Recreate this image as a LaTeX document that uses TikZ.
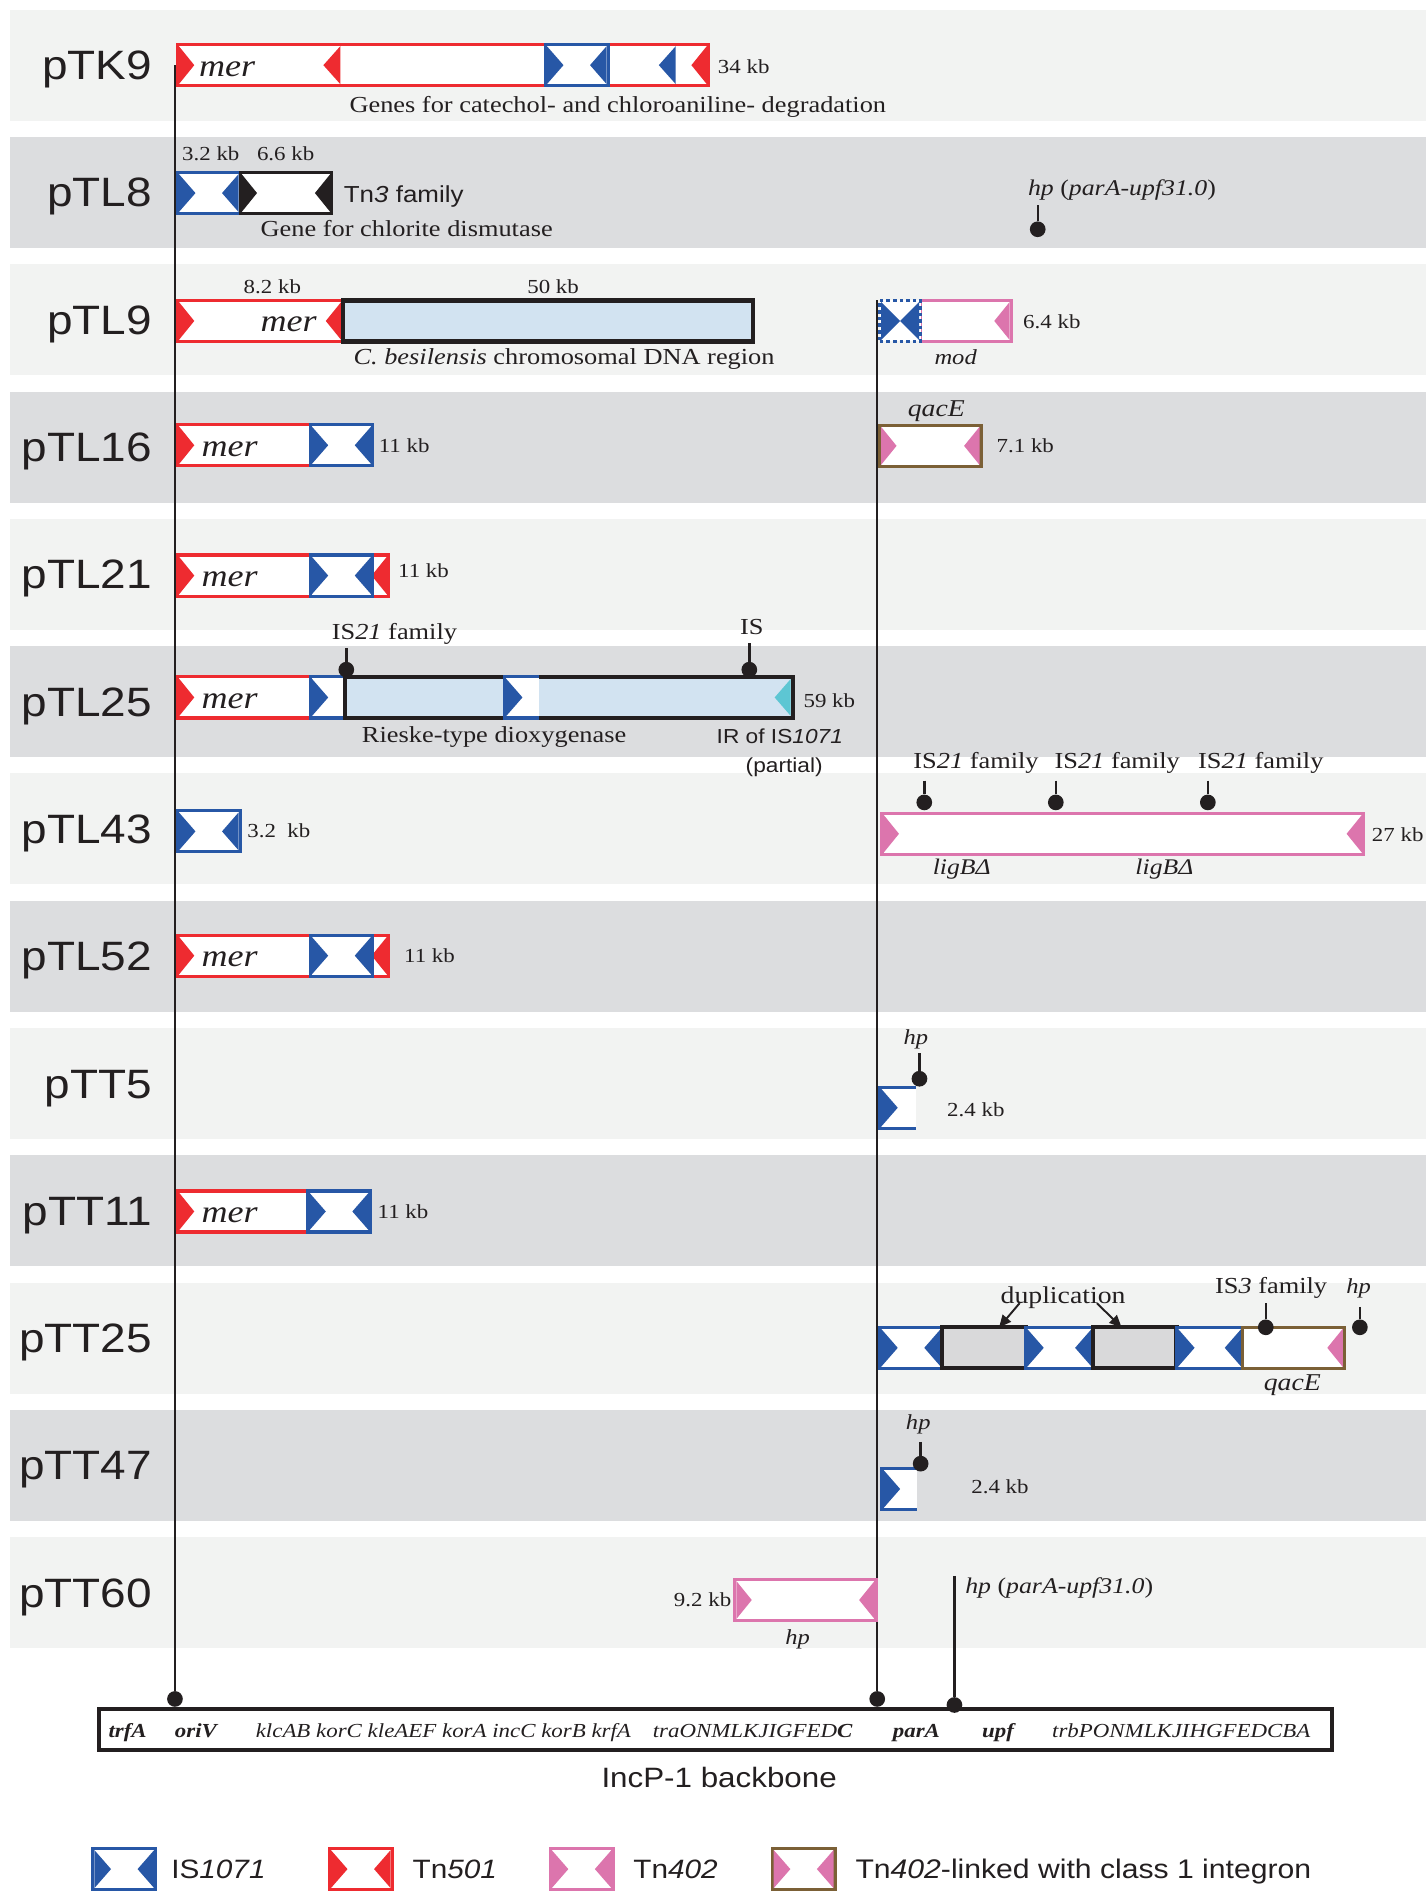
\documentclass[tikz,border=0pt]{standalone}
\usepackage{fontspec}
\setmainfont{Liberation Serif}[FakeStretch=1.15]
\setsansfont{Liberation Sans}[FakeStretch=1.12]
\usetikzlibrary{arrows.meta}

\definecolor{isblue}{HTML}{2757A6}
\definecolor{tnred}{HTML}{EE2B30}
\definecolor{tnpink}{HTML}{DC75AD}
\definecolor{intbrown}{HTML}{7B6036}
\definecolor{chrblue}{HTML}{D2E3F1}
\definecolor{ircyan}{HTML}{5DC6D3}
\definecolor{dupgrey}{HTML}{D9D9DA}
\definecolor{bandA}{HTML}{F2F3F2}
\definecolor{bandB}{HTML}{DCDDDF}
\definecolor{ink}{HTML}{231F20}

\newcommand\fs[1]{\fontsize{#1}{#1}\selectfont}
% inverted repeats: filled triangles on the left / right end of an element
\newcommand\irl[3][14]{\fill[#3] ([shift={(1.2,1.2)}]#2.north west) -- ([xshift=#1pt]#2.west) -- ([shift={(1.2,-1.2)}]#2.south west) -- cycle;}
\newcommand\irr[3][14]{\fill[#3] ([shift={(-1.2,1.2)}]#2.north east) -- ([xshift=-#1pt]#2.east) -- ([shift={(-1.2,-1.2)}]#2.south east) -- cycle;}
% truncated element: border on top, left and bottom only
\newcommand\openbox[2]{\draw[#2, line width=2.6pt] (#1.north east) -- (#1.north west) -- (#1.south west) -- (#1.south east);}
% IS1071 copy: blue box with both inverted repeats
\newcommand\isel[3]{\node[elem=isblue, minimum width=#3pt] (#1) at #2 {};\irl[15]{#1}{isblue}\irr[15]{#1}{isblue}}

\tikzset{
  txt/.style={inner sep=0pt, outer sep=0pt, text=ink},
  rowlab/.style={txt, anchor=base east, font=\sffamily\fs{34}},
  kb/.style={txt, anchor=base west, font=\fs{16.5}},
  desc/.style={txt, anchor=base west, font=\fs{19}},
  gene/.style={txt, anchor=base, font=\itshape\fs{17.7}},
  mer/.style={txt, anchor=base west, font=\itshape\fs{26}},
  sans/.style={txt, anchor=base west, font=\sffamily\fs{#1}},
  bbgene/.style={txt, anchor=base west, font=\itshape\fs{16.5}},
  bbkey/.style={txt, anchor=base west, font=\bfseries\itshape\fs{16.5}},
  elem/.style={draw=#1, line width=2.6pt, fill=white, inner sep=0pt, outer sep=0pt, minimum height=34pt, anchor=west},
  openel/.style={fill=white, inner sep=0pt, outer sep=0pt, minimum height=34pt, anchor=west},
  chrom/.style={draw=ink, line width=3.4pt, fill=chrblue, inner sep=0pt, outer sep=0pt, minimum height=34pt, anchor=west},
  dupbox/.style={chrom, fill=dupgrey},
  dotnode/.style={circle, fill=ink, inner sep=0pt, minimum size=13pt},
  pinline/.style={ink, line width=2pt},
  backline/.style={ink, line width=2pt},
  duparrow/.style={ink, line width=1.6pt, -{Triangle[length=10pt,width=9pt]}},
}

\begin{document}
\begin{tikzpicture}[x=1pt,y=-1pt]
\useasboundingbox (0,0) rectangle (1182,1568);

% row bands
\foreach \i/\c in {0/bandA,1/bandB,2/bandA,3/bandB,4/bandA,5/bandB,6/bandA,7/bandB,8/bandA,9/bandB,10/bandA,11/bandB,12/bandA}
  \fill[\c] (8,{8+105.5*\i}) rectangle (1182,{100+105.5*\i});

% plasmid names
\foreach \lab [count=\i from 0] in {pTK9,pTL8,pTL9,pTL16,pTL21,pTL25,pTL43,pTL52,pTT5,pTT11,pTT25,pTT47,pTT60}
  \node[rowlab] (lab\i) at (126,{66+105.5*\i}) {\lab};

% IncP-1 backbone
\node[draw=ink, line width=3.4pt, fill=white, minimum width=1022pt, minimum height=34pt, inner sep=0pt] (bb) at (593,1433) {};
\node[bbkey] (bbtrfA) at (90,1440) {trfA};
\node[bbkey] (bboriV) at (145,1440) {oriV};
\node[bbgene] (bbkl) at (212,1440) {klcAB korC kleAEF korA incC korB krfA};
\node[bbgene] (bbtra) at (541,1440) {traONMLKJIGFED\textbf{C}};
\node[bbkey] (bbparA) at (740,1440) {parA};
\node[bbkey] (bbupf) at (814,1440) {upf};
\node[bbgene] (bbtrb) at (872,1440) {trbPONMLKJIHGFEDCBA};
\node[sans=23.2, anchor=base] (bblab) at (596,1481) {IncP-1 backbone};

% insertion sites on the backbone
\node[dotnode] (dotL) at (145,1408) {};
\node[dotnode] (dotR) at (727,1408) {};
\node[dotnode] (dotHP) at (791,1413) {};
\coordinate (topL) at (145,54);
\coordinate (topR) at (727,249);
\coordinate (topHP) at (791,1306);
\draw[backline] (topL) -- (dotL);
\draw[backline] (topR) -- (dotR);
\draw[backline] (topHP) -- (dotHP);

% ---- pTK9
\node[elem=tnred, minimum width=440pt] (k9tn) at (147,54) {};
\irl{k9tn}{tnred}\irr{k9tn}{tnred}
\isel{k9is}{(452,54)}{52}
\fill[tnred] (282,38.3) -- (268,54) -- (282,69.7) -- cycle;
\fill[isblue] (560,38.3) -- (546,54) -- (560,69.7) -- cycle;
\node[mer] (k9mer) at (165,63) {mer};
\node[kb] (k9kb) at (595,61) {34 kb};
\node[desc, anchor=base] (k9desc) at (512,93) {Genes for catechol- and chloroaniline- degradation};

% ---- pTL8
\isel{l8is}{(147,160)}{52}
\node[elem=ink, minimum width=76pt] (l8tn) at (199,160) {};
\irl{l8tn}{ink}\irr{l8tn}{ink}
\node[kb] (l8kb1) at (151,133) {3.2 kb};
\node[kb] (l8kb2) at (213,133) {6.6 kb};
\node[sans=19.2] (l8fam) at (285,168) {Tn\textit{3} family};
\node[desc, anchor=base] (l8desc) at (337,196) {Gene for chlorite dismutase};
\node[gene, anchor=base west, font=\itshape\fs{18.6}] (l8hp) at (852,162) {hp \textup{(}parA-upf31.0\textup{)}};
\coordinate (l8pt) at (860,170);
\node[dotnode] (l8pd) at (860,190) {};
\draw[pinline] (l8pt) -- (l8pd);

% ---- pTL9
\node[elem=tnred, minimum width=137pt] (l9tn) at (147,266) {};
\irl{l9tn}{tnred}\irr{l9tn}{tnred}
\node[chrom, minimum width=340pt] (l9chr) at (284,266) {};
\node[mer] (l9mer) at (216,275) {mer};
\node[kb] (l9kb1) at (202,243) {8.2 kb};
\node[kb] (l9kb2) at (437,243) {50 kb};
\node[desc] (l9desc) at (293,302) {\textit{C. besilensis} chromosomal DNA region};
\node[elem=tnpink, minimum width=75pt] (l9tn402) at (763,266) {};
\irr{l9tn402}{tnpink}
\node[elem=isblue, dash pattern=on 3pt off 2.5pt, minimum width=34pt] (l9is) at (729,266) {};
\irl[17]{l9is}{isblue}\irr[17]{l9is}{isblue}
\node[gene] (l9mod) at (792,302) {mod};
\node[kb] (l9kb3) at (848,272) {6.4 kb};

% ---- pTL16
\node[elem=tnred, minimum width=110pt] (l16tn) at (147,369) {};
\irl{l16tn}{tnred}
\isel{l16is}{(257,369)}{52}
\node[mer] (l16mer) at (167,378) {mer};
\node[kb] (l16kb) at (314,375) {11 kb};
\node[elem=intbrown, minimum width=84pt] (l16int) at (729,369.5) {};
\irl{l16int}{tnpink}\irr{l16int}{tnpink}
\node[gene, font=\itshape\fs{20}] (l16qac) at (776,345) {qacE};
\node[kb] (l16kb2) at (826,375) {7.1 kb};

% ---- pTL21
\node[elem=tnred, minimum width=175pt] (l21tn) at (147,477) {};
\irl{l21tn}{tnred}\irr{l21tn}{tnred}
\isel{l21is}{(257,477)}{52}
\node[mer] (l21mer) at (167,486) {mer};
\node[kb] (l21kb) at (330,479) {11 kb};

% ---- pTL25
\node[elem=tnred, minimum width=110pt] (l25tn) at (147,578) {};
\irl{l25tn}{tnred}
\node[openel, minimum width=29pt] (l25is) at (257,578) {};
\openbox{l25is}{isblue}\irl[15]{l25is}{isblue}
\node[chrom, minimum width=371pt] (l25chr) at (286,578) {};
\node[openel, minimum width=29pt] (l25is2) at (418,578) {};
\openbox{l25is2}{isblue}\irl[15]{l25is2}{isblue}
\fill[ircyan] (655.3,562.7) -- (642,578) -- (655.3,593.3) -- cycle;
\node[mer] (l25mer) at (167,587) {mer};
\node[desc] (l25fam) at (275,530) {IS\textit{21} family};
\coordinate (l25p1t) at (287,537);
\node[dotnode] (l25p1) at (287,555) {};
\draw[pinline] (l25p1t) -- (l25p1);
\node[desc, anchor=base] (l25isl) at (623,526) {IS};
\coordinate (l25p2t) at (621,533);
\node[dotnode] (l25p2) at (621,555) {};
\draw[pinline] (l25p2t) -- (l25p2);
\node[desc] (l25rie) at (300,615) {Rieske-type dioxygenase};
\node[sans=16.8] (l25ir) at (594,616) {IR of IS\textit{1071}};
\node[sans=16.8] (l25par) at (618,640) {(partial)};
\node[kb] (l25kb) at (666,586) {59 kb};

% ---- pTL43
\isel{l43is}{(147,689)}{52}
\node[kb] (l43kb) at (205,694) {3.2~~kb};
\node[elem=tnpink, minimum width=399pt] (l43tn) at (731,691) {};
\irl{l43tn}{tnpink}\irr{l43tn}{tnpink}
\foreach \px/\lx [count=\k] in {766/757,875/874,1001/993} {
  \node[desc] (l43f\k) at (\lx,637) {IS\textit{21} family};
  \coordinate (l43t\k) at (\px,647);
  \node[dotnode] (l43d\k) at (\px,665) {};
  \draw[pinline] (l43t\k) -- (l43d\k);
}
\node[kb] (l43kb2) at (1137,697) {27 kb};
\node[gene, font=\itshape\fs{18.5}] (l43lig1) at (797,725) {ligBΔ};
\node[gene, font=\itshape\fs{18.5}] (l43lig2) at (965,725) {ligBΔ};

% ---- pTL52
\node[elem=tnred, minimum width=175pt] (l52tn) at (147,792) {};
\irl{l52tn}{tnred}\irr{l52tn}{tnred}
\isel{l52is}{(257,792)}{52}
\node[mer] (l52mer) at (167,801) {mer};
\node[kb] (l52kb) at (335,798) {11 kb};

% ---- pTT5
\node[openel, minimum width=30pt] (t5is) at (729,918) {};
\openbox{t5is}{isblue}\irl[15]{t5is}{isblue}
\node[gene] (t5hp) at (759,866) {hp};
\coordinate (t5pt) at (762,873);
\node[dotnode] (t5pd) at (762,894) {};
\draw[pinline] (t5pt) -- (t5pd);
\node[kb] (t5kb) at (785,925) {2.4 kb};

% ---- pTT11
\node[elem=tnred, minimum width=109pt] (t11tn) at (147,1004) {};
\irl{t11tn}{tnred}
\isel{t11is}{(255,1004)}{52}
\node[mer] (t11mer) at (167,1013) {mer};
\node[kb] (t11kb) at (313,1010) {11 kb};

% ---- pTT25
\isel{t25is1}{(729,1117)}{52}
\node[dupbox, minimum width=69pt] (t25d1) at (781,1117) {};
\isel{t25is2}{(850,1117)}{56}
\node[dupbox, minimum width=69pt] (t25d2) at (906,1117) {};
\isel{t25is3}{(975,1117)}{55}
\node[elem=intbrown, minimum width=84pt] (t25int) at (1030,1117) {};
\irr{t25int}{tnpink}
\node[desc, anchor=base, font=\fs{20}] (t25dup) at (881,1080) {duplication};
\draw[duparrow] ([xshift=-36pt]t25dup.base) -- ([xshift=12.5pt]t25d1.north);
\draw[duparrow] ([xshift=28pt]t25dup.base) -- ([xshift=-11pt]t25d2.north);
\node[desc] (t25fam) at (1007,1072) {IS\textit{3} family};
\coordinate (t25p1t) at (1049,1080);
\node[dotnode] (t25p1) at (1049,1100) {};
\draw[pinline] (t25p1t) -- (t25p1);
\node[gene] (t25hp) at (1126,1072) {hp};
\coordinate (t25p2t) at (1127,1083);
\node[dotnode] (t25p2) at (1127,1100) {};
\draw[pinline] (t25p2t) -- (t25p2);
\node[gene, font=\itshape\fs{20}] (t25qac) at (1071,1152) {qacE};

% ---- pTT47
\node[openel, minimum width=29pt] (t47is) at (731,1234) {};
\openbox{t47is}{isblue}\irl[15]{t47is}{isblue}
\node[gene] (t47hp) at (761,1185) {hp};
\coordinate (t47pt) at (763,1195);
\node[dotnode] (t47pd) at (763,1213) {};
\draw[pinline] (t47pt) -- (t47pd);
\node[kb] (t47kb) at (805,1238) {2.4 kb};

% ---- pTT60
\node[elem=tnpink, minimum width=117pt] (t60tn) at (609,1326) {};
\irl{t60tn}{tnpink}\irr{t60tn}{tnpink}
\node[kb, anchor=base east] (t60kb) at (606,1331) {9.2 kb};
\node[gene] (t60hp) at (661,1363) {hp};
\node[gene, anchor=base west, font=\itshape\fs{18.6}] (t60hp2) at (800,1321) {hp \textup{(}parA-upf31.0\textup{)}};

% ---- legend
\isel{lgIS}{(77,1549)}{52}
\node[sans=22] (lgISt) at (142,1557) {IS\textit{1071}};
\node[elem=tnred, minimum width=52pt] (lgTn501) at (273,1549) {};
\irl[15]{lgTn501}{tnred}\irr[15]{lgTn501}{tnred}
\node[sans=22] (lgTn501t) at (342,1557) {Tn\textit{501}};
\node[elem=tnpink, minimum width=52pt] (lgTn402) at (456,1549) {};
\irl[15]{lgTn402}{tnpink}\irr[15]{lgTn402}{tnpink}
\node[sans=22] (lgTn402t) at (525,1557) {Tn\textit{402}};
\node[elem=intbrown, minimum width=52pt] (lgInt) at (640,1549) {};
\irl[15]{lgInt}{tnpink}\irr[15]{lgInt}{tnpink}
\node[sans=22.3] (lgIntt) at (709,1557) {Tn\textit{402}-linked with class 1 integron};
\end{tikzpicture}
\end{document}
